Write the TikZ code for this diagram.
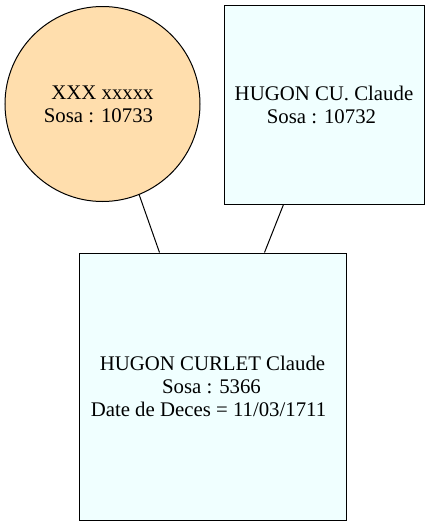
\documentclass[tikz,border=0pt]{standalone}
\usepackage{fontspec}
\setmainfont{Liberation Serif}
\newfontfamily\labelfont{Liberation Serif}
\definecolor{circfill}{HTML}{FFDEAD}
\definecolor{boxfill}{HTML}{F0FFFF}
\begin{document}
\begin{tikzpicture}[x=1pt,y=-1pt,
  person/.style={draw=black,line width=1pt,inner sep=0pt,align=center,
    font=\labelfont\fontsize{20.8}{23}\selectfont},
  female/.style={person,circle,fill=circfill,minimum size=195pt},
  malebox/.style={person,rectangle,fill=boxfill},
  link/.style={draw=black,line width=1pt}]
\useasboundingbox (0,0) rectangle (429,525);
\node[female] (mother) at (102.5,104) {XXX xxxxx\\Sosa : 10733\kern8pt};
\node[malebox,minimum width=200pt,minimum height=199pt] (father) at (324,104.5) {HUGON CU. Claude\\Sosa : 10732\kern5pt};
\node[malebox,minimum width=267pt,minimum height=267pt] (child) at (212.5,386.5) {HUGON CURLET Claude\\Sosa : 5366\kern2pt\\Date de Deces = 11/03/1711\kern8pt};
\draw[link] (mother.-68.4) -- ([xshift=81pt]child.north west);
\draw[link] ([xshift=60pt]father.south west) -- ([xshift=186pt]child.north west);
\end{tikzpicture}
\end{document}
